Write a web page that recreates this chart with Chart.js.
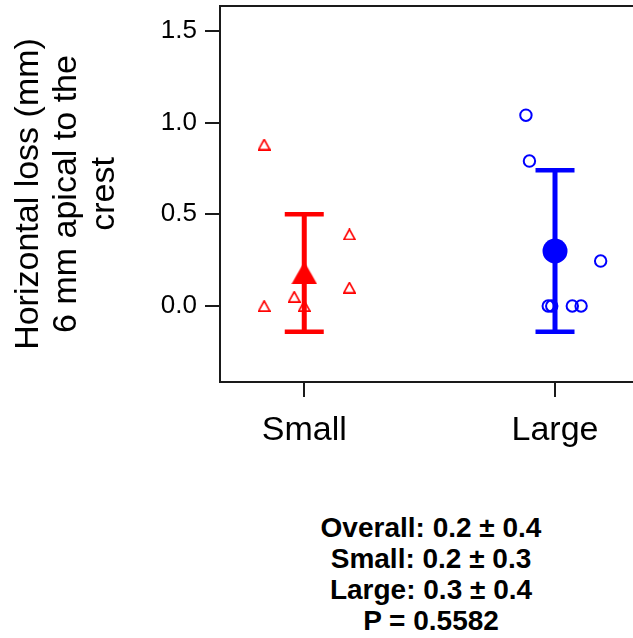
<!DOCTYPE html>
<html>
<head>
<meta charset="utf-8">
<title>Horizontal loss by group</title>
<script src="https://cdn.jsdelivr.net/npm/chart.js@4.4.1/dist/chart.umd.min.js"></script>
<style>
  body { margin: 0; background: #fff; font-family: 'Liberation Sans', Arial, sans-serif; }
  #wrap { position: relative; width: 633px; height: 638px; overflow: hidden; }
  #stats {
    position: absolute; left: 231px; top: 512px; width: 400px;
    text-align: center; font-weight: bold; font-size: 28px; line-height: 31px; color: #000;
  }
</style>
</head>
<body>
<div id="wrap">
  <canvas id="my-chart" width="633" height="470"></canvas>
  <div id="stats"></div>
</div>
<script>
'use strict';

let groups = ['Small', 'Large'];
let yTicks = [0, 0.5, 1.0, 1.5];

// single measurements, x is the jittered group position (1 = Small, 2 = Large)
let smallX = [0.84, 0.84, 0.96, 1.00, 1.18, 1.18];
let smallY = [0.88, 0.00, 0.05, 0.00, 0.39, 0.10];
let largeX = [1.884, 1.898, 2.182, 1.973, 1.987, 2.069, 2.104];
let largeY = [1.04, 0.79, 0.245, 0.00, 0.00, 0.00, 0.00];

// mean and SD per group
let groupMeans = [0.18, 0.30];
let groupSDs = [0.32, 0.44];

let overallMean = 0.2;
let overallSD = 0.4;
let pValue = 0.5582;

let red = '#ff0000';
let blue = '#0000ff';
let axisColor = '#1a1a1a';
let fontFamily = "'Liberation Sans', Arial, sans-serif";

// triangle marker drawn on a small canvas so its box is centred on the value
function trianglePoint(w, h, color, filled, lw) {
  let c = document.createElement('canvas');
  c.width = w;
  c.height = h;
  let ctx = c.getContext('2d');
  let m = filled ? 0 : lw / 2;
  ctx.beginPath();
  ctx.moveTo(w / 2, m);
  ctx.lineTo(w - m, h - m);
  ctx.lineTo(m, h - m);
  ctx.closePath();
  if (filled) {
    ctx.fillStyle = color;
    ctx.fill();
  } else {
    ctx.strokeStyle = color;
    ctx.lineWidth = lw;
    ctx.lineJoin = 'miter';
    ctx.stroke();
  }
  return c;
}

function toPoints(xs, ys) {
  let pts = [];
  for (let i = 0; i < xs.length; i++) {
    pts.push({ x: xs[i], y: ys[i] });
  }
  return pts;
}

function errorBar(i, color) {
  return {
    data: [
      { x: i + 1, y: groupMeans[i] - groupSDs[i] },
      { x: i + 1, y: groupMeans[i] + groupSDs[i] }
    ],
    showLine: true,
    borderColor: color,
    borderWidth: 5,
    pointStyle: 'line',
    pointRadius: 19.5,
    pointBorderWidth: 4.5,
    pointBorderColor: color
  };
}

let canvasElem = document.getElementById('my-chart');

function renderChart() {
  Chart.defaults.font.family = fontFamily;
  Chart.defaults.color = '#000';

  let openTri = trianglePoint(13, 12, red, false, 1.7);
  let fullTri = trianglePoint(26, 23, red, true, 0);

  let chartObj = {
    type: 'scatter',
    data: {
      datasets: [
        {
          data: toPoints(smallX, smallY),
          pointStyle: openTri,
          pointRadius: 6
        },
        {
          data: toPoints(largeX, largeY),
          pointStyle: 'circle',
          pointRadius: 5.7,
          pointBorderWidth: 2,
          pointBorderColor: blue,
          pointBackgroundColor: 'rgba(0,0,0,0)'
        },
        {
          data: [{ x: 1, y: groupMeans[0] }],
          pointStyle: fullTri,
          pointRadius: 13
        },
        {
          data: [{ x: 2, y: groupMeans[1] }],
          pointStyle: 'circle',
          pointRadius: 12.5,
          pointBorderWidth: 0,
          pointBackgroundColor: blue
        },
        errorBar(0, red),
        errorBar(1, blue)
      ]
    },
    options: {
      responsive: false,
      animation: false,
      layout: { padding: 0, autoPadding: false },
      plugins: {
        legend: { display: false },
        tooltip: { enabled: false }
      },
      scales: {
        x: {
          type: 'linear',
          position: 'bottom',
          min: 0.664,
          max: 2.311,
          afterBuildTicks: function (s) {
            s.ticks = groups.map(function (g, i) { return { value: i + 1 }; });
          },
          afterFit: function (s) {
            s.height = 88;
            s.paddingLeft = 0;
            s.paddingRight = 0;
          },
          grid: { drawOnChartArea: false, drawTicks: true, tickLength: 15, color: axisColor, lineWidth: 2 },
          border: { color: axisColor, width: 2 },
          ticks: {
            callback: function (v) { return groups[Math.round(v) - 1]; },
            font: { size: 34 },
            color: '#000',
            padding: 13,
            maxRotation: 0
          }
        },
        xTop: {
          type: 'linear',
          position: 'top',
          afterFit: function (s) {
            s.height = 6;
            s.paddingLeft = 0;
            s.paddingRight = 0;
          },
          grid: { drawOnChartArea: false, drawTicks: false },
          border: { color: axisColor, width: 2 },
          ticks: { display: false }
        },
        y: {
          min: -0.414,
          max: 1.635,
          afterBuildTicks: function (s) {
            s.ticks = yTicks.map(function (v) { return { value: v }; });
          },
          afterFit: function (s) {
            s.width = 220;
            s.paddingTop = 0;
            s.paddingBottom = 0;
          },
          grid: { drawOnChartArea: false, drawTicks: true, tickLength: 15, color: axisColor, lineWidth: 2 },
          border: { color: axisColor, width: 2 },
          ticks: {
            callback: function (v) { return v.toFixed(1); },
            font: { size: 26 },
            color: '#000',
            padding: 8
          },
          title: {
            display: true,
            text: ['Horizontal loss (mm)', '6 mm apical to the', 'crest'],
            font: { size: 34, lineHeight: 1.13 },
            color: '#000',
            padding: { top: 9, bottom: 0 }
          }
        }
      }
    }
  };

  new Chart(canvasElem, chartObj); //eslint-disable-line
}

// summary lines under the plot
function renderStats() {
  let lines = [
    'Overall: ' + overallMean.toFixed(1) + ' ± ' + overallSD.toFixed(1)
  ];
  for (let i = 0; i < groups.length; i++) {
    lines.push(groups[i] + ': ' + groupMeans[i].toFixed(1) + ' ± ' + groupSDs[i].toFixed(1));
  }
  lines.push('P = ' + pValue.toFixed(4));
  document.getElementById('stats').innerHTML = lines.join('<br>');
}

renderChart();
renderStats();
</script>
</body>
</html>
